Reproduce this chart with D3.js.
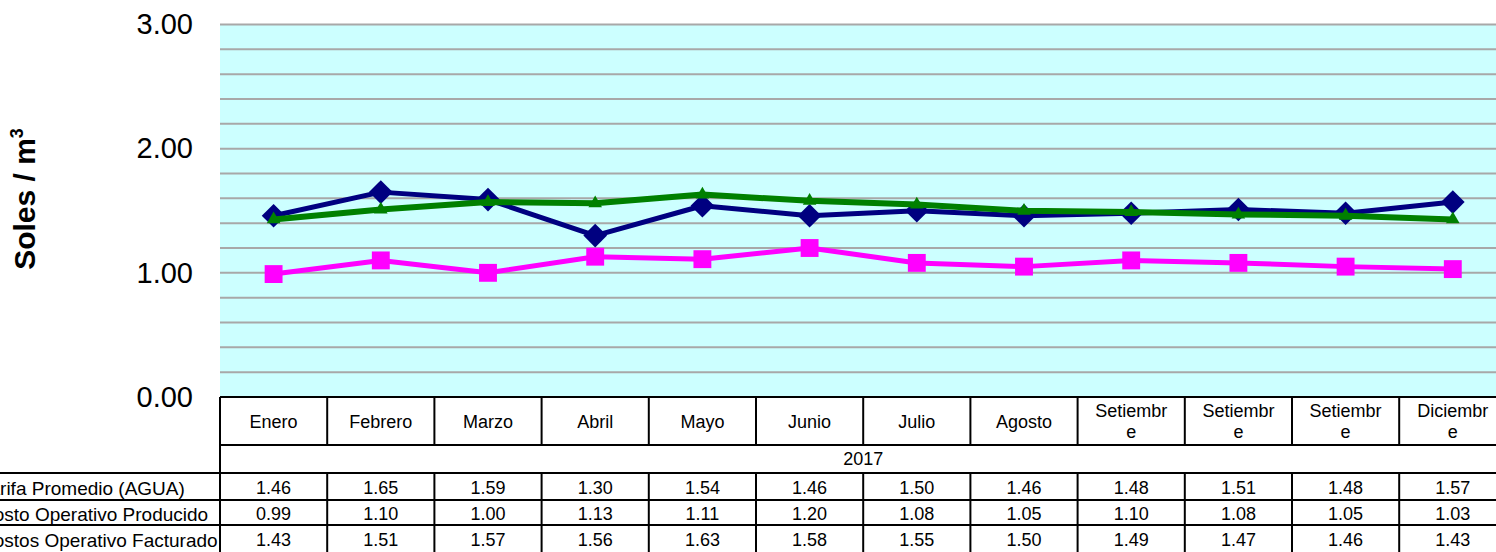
<!DOCTYPE html>
<html>
<head>
<meta charset="utf-8">
<script src="https://cdn.jsdelivr.net/npm/d3@7"></script>
<style>
    body { margin: 0; background: #fff; overflow: hidden; }
    text { font-family: Arial, 'Liberation Sans', sans-serif; fill: #000; }
</style>
</head>
<body>
<main></main>
<script>
var months = ['Enero', 'Febrero', 'Marzo', 'Abril', 'Mayo', 'Junio', 'Julio', 'Agosto', 'Setiembre', 'Setiembre', 'Setiembre', 'Diciembre'];
var year = '2017';
var seriesNames = ['Tarifa Promedio (AGUA)', 'Costo Operativo Producido', 'Costos Operativo Facturado'];
var tarifa = [1.46, 1.65, 1.59, 1.30, 1.54, 1.46, 1.50, 1.46, 1.48, 1.51, 1.48, 1.57];
var producido = [0.99, 1.10, 1.00, 1.13, 1.11, 1.20, 1.08, 1.05, 1.10, 1.08, 1.05, 1.03];
var facturado = [1.43, 1.51, 1.57, 1.56, 1.63, 1.58, 1.55, 1.50, 1.49, 1.47, 1.46, 1.43];
var yTicks = [0, 1, 2, 3];

!function(){
    var w = 1496;
    var h = 552;
    var left = 220;
    var colW = 107.2;
    var top = 24.5;
    var base = 397;
    var rows = [445, 473, 500, 525];

    var series = [
        { name: seriesNames[0], values: tarifa, color: '#000080', symbol: d3.symbolSquare, size: 280, rot: 45, width: 5 },
        { name: seriesNames[1], values: producido, color: '#ff00ff', symbol: d3.symbolSquare, size: 320, rot: 0, width: 5 },
        { name: seriesNames[2], values: facturado, color: '#008000', symbol: d3.symbolTriangle, size: 80, rot: 0, width: 6 }
    ];

    let svg = d3.select('main')
        .append('svg')
        .attr('width', w)
        .attr('height', h);

    let xScale = d3.scaleBand()
        .domain(d3.range(months.length))
        .range([left, left + colW * months.length]);
    let yScale = d3.scaleLinear().domain([0, 3]).range([base, top]);

    svg.append('rect')
        .attr('x', left)
        .attr('y', yScale(3))
        .attr('width', w - left)
        .attr('height', yScale(0) - yScale(3))
        .attr('fill', '#ccffff');

    svg.append('g')
        .selectAll('line')
        .data(yScale.ticks(15).filter(d => d > 0))
        .join('line')
        .attr('x1', left)
        .attr('x2', w)
        .attr('y1', d => yScale(d))
        .attr('y2', d => yScale(d))
        .attr('stroke', '#a8a8a8')
        .attr('stroke-width', 2);

    var yAxis = d3.axisLeft(yScale).tickValues(yTicks).tickFormat(d3.format('.2f')).tickSize(0).tickPadding(0);
    let yg = svg.append('g')
        .attr('transform', 'translate(193,0)')
        .call(yAxis);
    yg.select('.domain').remove();
    yg.selectAll('text')
        .attr('font-size', 29)
        .attr('font-family', 'Arial, Liberation Sans, sans-serif')
        .attr('fill', '#000');

    let title = svg.append('text')
        .attr('transform', 'translate(35,199) rotate(-90)')
        .attr('text-anchor', 'middle')
        .attr('font-size', 30)
        .attr('font-weight', 'bold');
    title.append('tspan').text('Soles / m');
    title.append('tspan').attr('font-size', 18).attr('dy', -12).text('3');

    series.forEach(s => {
        var line = d3.line()
            .x((d, i) => xScale(i) + xScale.bandwidth() / 2)
            .y(d => yScale(d));
        let g = svg.append('g');
        g.append('path')
            .datum(s.values)
            .attr('d', line)
            .attr('fill', 'none')
            .attr('stroke', s.color)
            .attr('stroke-width', s.width)
            .attr('stroke-linejoin', 'round');
        g.selectAll('path.mark')
            .data(s.values)
            .join('path')
            .attr('class', 'mark')
            .attr('d', d3.symbol().type(s.symbol).size(s.size))
            .attr('transform', (d, i) => 'translate(' + (xScale(i) + xScale.bandwidth() / 2) + ',' + yScale(d) + ') rotate(' + s.rot + ')')
            .attr('fill', s.color);
    });

    // table under the plot
    let t = svg.append('g').attr('stroke', '#000').attr('stroke-width', 2);
    var right = xScale.range()[1];
    t.append('line').attr('x1', left).attr('x2', right).attr('y1', base).attr('y2', base);
    t.append('line').attr('x1', left).attr('x2', right).attr('y1', rows[0]).attr('y2', rows[0]);
    rows.slice(1).forEach(y => {
        t.append('line').attr('x1', 0).attr('x2', right).attr('y1', y).attr('y2', y);
    });
    t.append('line').attr('x1', left).attr('x2', left).attr('y1', base).attr('y2', h);
    d3.range(1, months.length + 1).forEach(i => {
        var x = left + colW * i;
        t.append('line').attr('x1', x).attr('x2', x).attr('y1', base).attr('y2', rows[0]);
        t.append('line').attr('x1', x).attr('x2', x).attr('y1', rows[1]).attr('y2', h);
    });

    let mg = svg.append('g').attr('font-size', 18).attr('text-anchor', 'middle');
    months.forEach((m, i) => {
        let txt = mg.append('text').attr('x', xScale(i) + xScale.bandwidth() / 2);
        let ts = txt.append('tspan').attr('x', txt.attr('x')).text(m);
        var lines = [m];
        if (ts.node().getComputedTextLength() > 75) {
            var k = m.length;
            while (k > 1 && (ts.text(m.slice(0, k)), ts.node().getComputedTextLength() > 75)) k--;
            lines = [m.slice(0, k), m.slice(k)];
            txt.append('tspan').attr('x', txt.attr('x')).attr('dy', 21).text(lines[1]);
        }
        txt.attr('y', lines.length > 1 ? 417 : 428);
    });

    svg.append('text')
        .attr('x', (left + right) / 2)
        .attr('y', (rows[0] + rows[1]) / 2)
        .attr('dy', '0.35em')
        .attr('text-anchor', 'middle')
        .attr('font-size', 18)
        .text(year);

    var rowMid = [488, 514, 540];
    series.forEach((s, r) => {
        svg.append('text')
            .attr('x', -20)
            .attr('y', rowMid[r])
            .attr('dy', '0.35em')
            .attr('font-size', 19)
            .text(s.name);
        svg.append('g')
            .selectAll('text')
            .data(s.values)
            .join('text')
            .attr('x', (d, i) => xScale(i) + xScale.bandwidth() / 2)
            .attr('y', rowMid[r])
            .attr('dy', '0.35em')
            .attr('text-anchor', 'middle')
            .attr('font-size', 18)
            .text(d => d3.format('.2f')(d));
    });
}();
</script>
</body>
</html>
